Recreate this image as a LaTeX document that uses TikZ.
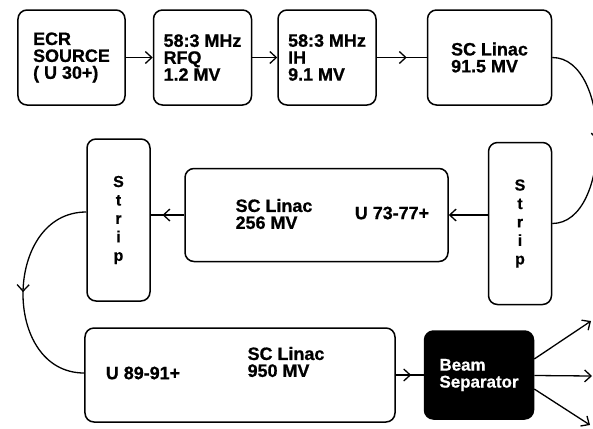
\documentclass[tikz,border=0pt]{standalone}
\usepackage{fontspec}
\setmainfont{Liberation Sans}[BoldFeatures={FakeBold=0.8}]
\usetikzlibrary{positioning, arrows.meta, decorations.markings}

\begin{document}
\begin{tikzpicture}[x=1bp, y=1bp, thick, >={Straight Barb[length=6.5bp, width=12bp]},
    blk/.style={draw, line width=1.5bp, rounded corners=9bp, align=left, inner sep=0pt,
        font=\bfseries\fontsize{18}{17}\selectfont},
    strip/.style={blk, minimum width=63bp, minimum height=162bp, align=center,
        font=\bfseries\fontsize{16}{18.5}\selectfont},
    txt/.style={align=left, font=\bfseries\fontsize{18}{17}\selectfont},
    conn/.style={line width=1.3bp},
    midarrow/.style={decoration={markings, mark=at position #1 with {\arrow{>}}}, postaction=decorate}]
    \useasboundingbox (0,0) rectangle (593,-428);

    % Injector row
    \node[blk, minimum width=107bp, minimum height=95bp] (ecr) at (71.5,-57.5) {ECR\\SOURCE\\( U 30+)};
    \node[blk, minimum width=98bp, minimum height=95bp] (rfq) [right=27bp of ecr] {58:3 MHz\\RFQ\\1.2 MV};
    \node[blk, minimum width=98bp, minimum height=95bp] (ih) [right=25bp of rfq] {58:3 MHz\\IH\\9.1 MV};
    \node[blk, minimum width=124bp, minimum height=95bp] (sc1) [right=50bp of ih] {SC Linac\\91.5 MV};

    % Strippers and linacs
    \node[strip, below=36bp of sc1.south east, anchor=north east] (stripR) {S\\t\\r\\i\\p};
    \node[blk, minimum width=263bp, minimum height=93bp] (sc2) at (316.5,-215) {};
    \node[txt] (sc2name) at (274,-214) {SC Linac\\256 MV};
    \node[txt] (sc2ion) at (392,-213) {U 73-77+};
    \node[strip] (stripL) at (118.5,-220) {S\\t\\r\\i\\p};
    \node[blk, minimum width=310bp, minimum height=94bp] (sc3) at (240,-375) {};
    \node[txt] (sc3ion) at (143,-373) {U 89-91+};
    \node[txt] (sc3name) at (286,-362) {SC Linac\\950 MV};

    % Separator
    \node[blk, fill=black, text=white, minimum width=109bp, minimum height=88bp,
        font=\bfseries\fontsize{17}{17}\selectfont] (sep) [right=28bp of sc3] {Beam\\Separator};
    \coordinate (outA) at (591,-321);
    \coordinate (outB) at (592,-376);
    \coordinate (outC) at (590,-425);

    % Beam path
    \draw[conn, ->] (ecr) -- (rfq);
    \draw[conn, ->] (rfq) -- (ih);
    \draw[conn, midarrow=0.6] (ih) -- (sc1);
    \draw[conn, midarrow=0.5] (sc1.east) .. controls +(60,0) and +(60,0) .. (stripR.east);
    \draw[conn, ->] (stripR.west |- sc2.east) -- (sc2.east);
    \draw[conn, midarrow=0.65] (sc2.west) -- (sc2.west -| stripL.east);
    \draw[conn, midarrow=0.5] ([yshift=8bp]stripL.west) .. controls +(-83,0) and +(-83,0) .. ([yshift=2bp]sc3.west);
    \draw[conn, midarrow=0.55] (sc3) -- (sep);
    \draw[conn, ->] ([yshift=16bp]sep.east) -- (outA);
    \draw[conn, ->] (sep) -- (outB);
    \draw[conn, ->] ([yshift=-14bp]sep.east) -- (outC);
\end{tikzpicture}
\end{document}
